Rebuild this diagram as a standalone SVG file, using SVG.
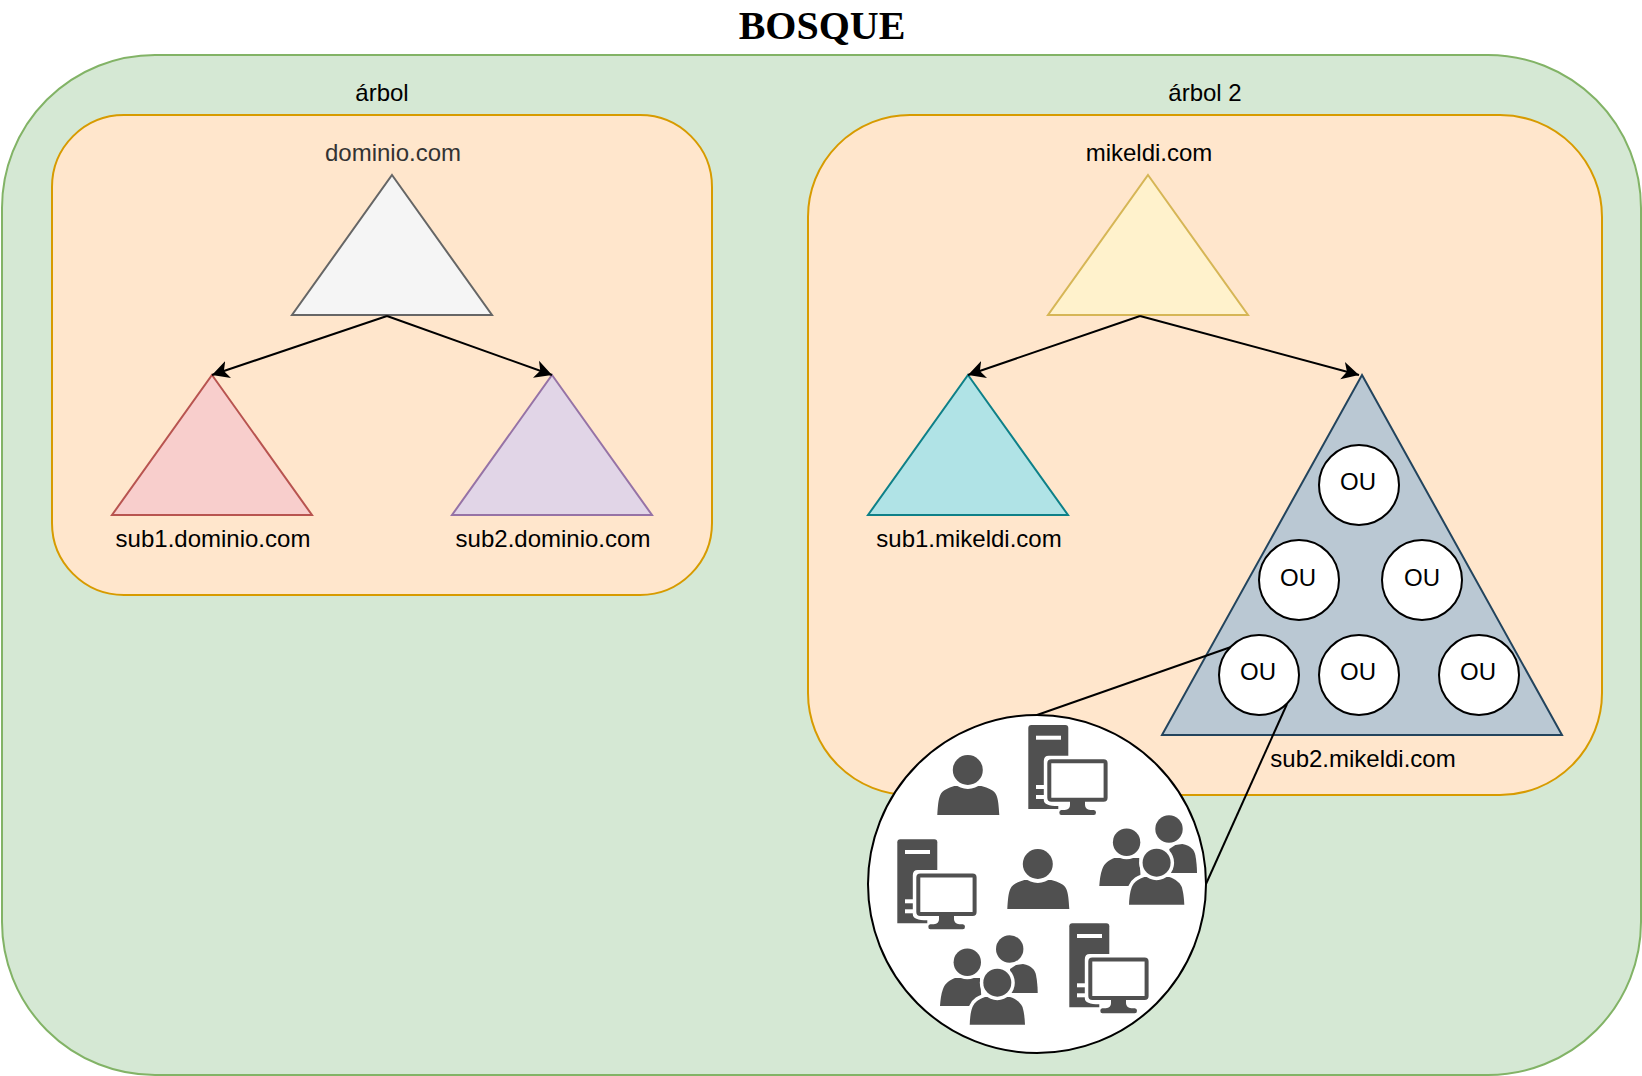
<svg xmlns="http://www.w3.org/2000/svg" xmlns:xlink="http://www.w3.org/1999/xlink" width="1642" height="1076" viewBox="0 0 1642 1076">
<style>
text{font-family:"Liberation Sans",Arial,sans-serif;font-size:24px;fill:#000;text-anchor:middle}
.title{font-family:"Liberation Serif","Times New Roman",serif;font-size:40px;font-weight:bold}
.s{stroke-width:2}
.conn{fill:none;stroke:#000;stroke-width:2}
.ou{fill:#fff;stroke:#000;stroke-width:2}
.ic{fill:#505050}
.w{fill:#fff}
</style>
<defs>
<marker id="arrow" markerUnits="userSpaceOnUse" markerWidth="20" markerHeight="20" refX="17" refY="10" orient="auto">
<path d="M0 1 L17 10 L0 19 L4.500 10 Z" fill="#000"/>
</marker>
<g id="person">
<path class="ic" d="M0 60 C0.5 52 1 44 3 40 C5 35 11 33 17 31 L44 31 C51 33 57 35 59 40 C61 44 61.500 52 62 60 Z"/>
<circle class="w" cx="30.500" cy="15" r="19"/>
<circle class="ic" cx="30.500" cy="15" r="15"/>
</g>
<g id="people">
<g transform="translate(42,0)"><path class="ic" d="M28 58 L28 34 L34 30 L41 29 C50 31 53 35 54 40 C55 45 55.700 52 55.700 58 Z"/><circle class="w" cx="27.700" cy="14" r="17"/><circle class="ic" cx="27.700" cy="14" r="13.700"/></g>
<g><path class="ic" d="M0 71 C0.500 65 1 59 3 54 C5 48 10 45 15 43 L40 43 L42 71 Z"/><circle class="w" cx="27.300" cy="27.300" r="17"/><circle class="ic" cx="27.300" cy="27.300" r="13.700"/></g>
<path class="ic" stroke="#fff" stroke-width="7" paint-order="stroke" d="M29.700 89.700 C30 83 30.500 77 32.500 72 C35 66 40 64 45 62 L70 62 C76 64 80 67 82.500 72 C84 77 84.700 83 85 89.700 Z"/>
<circle class="w" cx="57.300" cy="47.700" r="17.500"/>
<circle class="ic" cx="57.300" cy="47.700" r="14"/>
</g>
<g id="server">
<path class="ic" d="M0 84 L0 3 Q0 0 3 0 L37 0 Q40 0 40 3 L40 84 Z"/>
<rect class="w" x="7.700" y="10.700" width="25" height="4"/>
<rect class="w" x="7.700" y="60" width="10" height="4"/>
<rect class="w" x="7.700" y="70" width="10" height="4"/>
<path class="w" d="M15.500 36 Q15.500 30.800 20.500 30.800 L82.800 30.800 L82.800 80.200 L43 80.200 L43 86 L30 86 L30 81 Q15.500 81 15.500 75 Z"/>
<rect x="21" y="36.300" width="56.300" height="38.400" rx="2" fill="#fff" stroke="#505050" stroke-width="4"/>
<path class="ic" d="M41.700 76 L56.700 76 L56.700 80 Q57 84.700 62 85 L65.500 85 Q67.700 85 67.700 87.500 Q67.700 90 65.500 90 L33 90 Q31 90 31 87.500 Q31 85 33 85 L36.500 85 Q41.700 84.700 41.700 80 Z"/>
</g>
</defs>
<g id="forest">
<rect class="s" x="2" y="55" width="1639" height="1020" rx="153" ry="153" fill="#d5e8d4" stroke="#82b366"/>
<text class="title" x="822" y="39">BOSQUE</text>
</g>
<g id="tree1">
<rect class="s" x="52" y="115" width="660" height="480" rx="72" ry="72" fill="#ffe6cc" stroke="#d79b00"/>
<text x="382" y="101">árbol</text>
</g>
<g id="tree2">
<rect class="s" x="808" y="115" width="794" height="680" rx="102" ry="102" fill="#ffe6cc" stroke="#d79b00"/>
<text x="1205" y="101">árbol 2</text>
</g>
<g id="dominio">
<polygon class="s" points="392,175 492,315 292,315" fill="#f5f5f5" stroke="#666666"/>
<text x="393" y="161" style="fill:#333333">dominio.com</text>
</g>
<g id="sub1-dominio">
<polygon class="s" points="212,375 312,515 112,515" fill="#f8cecc" stroke="#b85450"/>
<text x="213" y="547">sub1.dominio.com</text>
</g>
<g id="sub2-dominio">
<polygon class="s" points="552,375 652,515 452,515" fill="#e1d5e7" stroke="#9673a6"/>
<text x="553" y="547">sub2.dominio.com</text>
</g>
<g id="mikeldi">
<polygon class="s" points="1148,175 1248,315 1048,315" fill="#fff2cc" stroke="#d6b656"/>
<text x="1149" y="161">mikeldi.com</text>
</g>
<g id="sub1-mikeldi">
<polygon class="s" points="968,375 1068,515 868,515" fill="#b0e3e6" stroke="#0e8088"/>
<text x="969" y="547">sub1.mikeldi.com</text>
</g>
<g id="sub2-mikeldi">
<polygon class="s" points="1362,375 1562,735 1162,735" fill="#bac8d3" stroke="#23445d"/>
<text x="1363" y="767">sub2.mikeldi.com</text>
</g>
<g id="ou1"><circle class="ou" cx="1359" cy="485" r="40"/><text x="1358" y="490">OU</text></g>
<g id="ou2"><circle class="ou" cx="1299" cy="580" r="40"/><text x="1298" y="586">OU</text></g>
<g id="ou3"><circle class="ou" cx="1422" cy="580" r="40"/><text x="1422" y="586">OU</text></g>
<g id="ou4"><circle class="ou" cx="1259" cy="675" r="40"/><text x="1258" y="680">OU</text></g>
<g id="ou5"><circle class="ou" cx="1359" cy="675" r="40"/><text x="1358" y="680">OU</text></g>
<g id="ou6"><circle class="ou" cx="1479" cy="675" r="40"/><text x="1478" y="680">OU</text></g>
<g id="connectors">
<line class="conn" x1="387" y1="316" x2="212" y2="375" marker-end="url(#arrow)"/>
<line class="conn" x1="387" y1="316" x2="552" y2="375" marker-end="url(#arrow)"/>
<line class="conn" x1="1140" y1="316" x2="968" y2="375" marker-end="url(#arrow)"/>
<line class="conn" x1="1140" y1="316" x2="1359" y2="375" marker-end="url(#arrow)"/>
<line class="conn" x1="1037" y1="715" x2="1231" y2="647"/>
<line class="conn" x1="1206" y1="884" x2="1287" y2="704"/>
</g>
<g id="detail">
<circle cx="1037" cy="884" r="169" fill="#fff" stroke="#000" stroke-width="2"/>
<use href="#person" x="937.300" y="755"/>
<use href="#person" x="1007.300" y="849"/>
<use href="#server" x="1028.300" y="725"/>
<use href="#server" x="897.300" y="839.300"/>
<use href="#server" x="1069.300" y="923.300"/>
<use href="#people" x="1099.300" y="815"/>
<use href="#people" x="940" y="935"/>
</g>
</svg>
